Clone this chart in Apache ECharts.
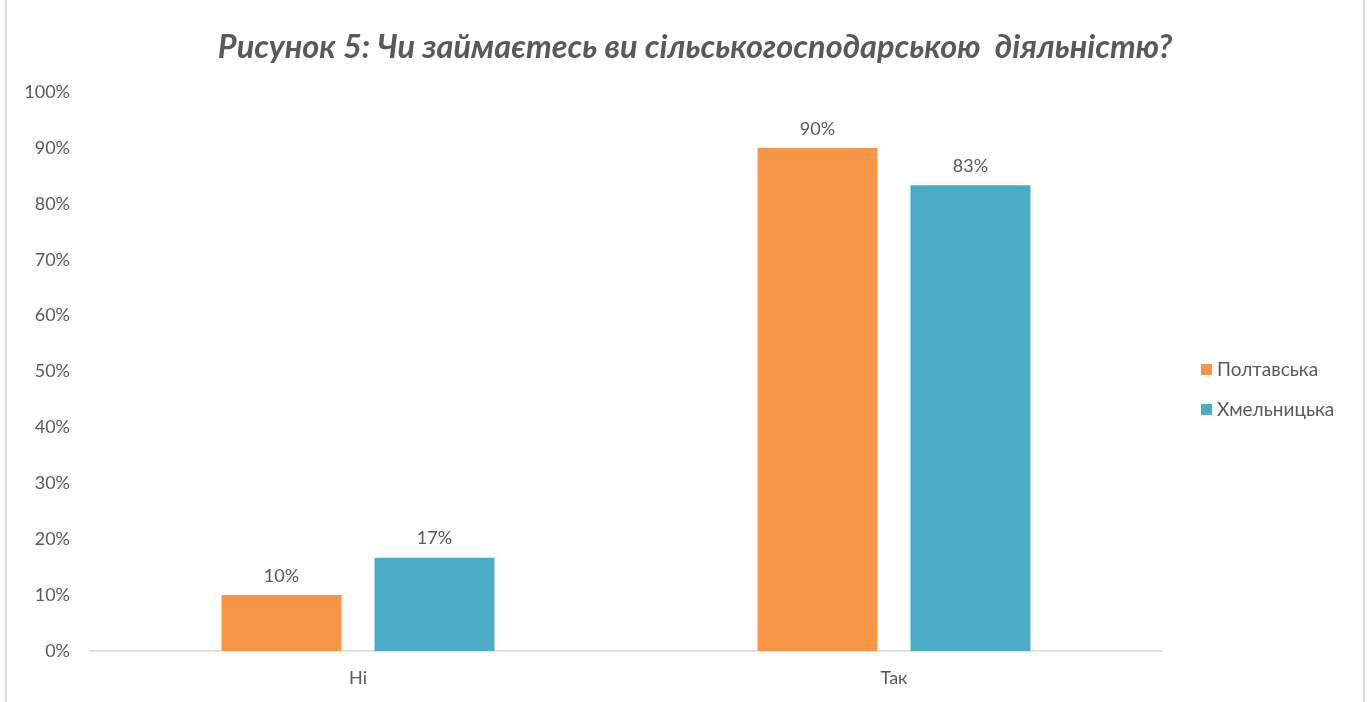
<!DOCTYPE html>
<html>
<head>
<meta charset="utf-8">
<script src="https://cdn.jsdelivr.net/npm/echarts@6/dist/echarts.min.js"></script>
<style>
  html, body { margin: 0; padding: 0; background: #fff; }
  #chart { width: 1370px; height: 702px; }
</style>
</head>
<body>
<div id="chart"></div>
<script>
var categories = ['Ні', 'Так'];
var poltavska = [10, 90];
var khmelnytska = [16.7, 83.3];
var yTicks = [0, 10, 20, 30, 40, 50, 60, 70, 80, 90, 100];

var chart = echarts.init(document.getElementById('chart'));
var font = 'Lato, "Open Sans", sans-serif';

var labelOpt = {
  show: true,
  position: 'top',
  distance: 10,
  color: '#595959',
  fontSize: 18,
  fontFamily: font,
  formatter: function (p) { return Math.round(p.value) + '%'; }
};

var option = {
  backgroundColor: '#fff',
  animation: false,
  graphic: [{
    type: 'rect',
    shape: { x: 6, y: -2, width: 1358, height: 720 },
    style: { fill: 'none', stroke: '#d9d9d9', lineWidth: 2 },
    silent: true
  }],
  title: {
    text: 'Рисунок 5: Чи займаєтесь ви сільськогосподарською  діяльністю?',
    left: 690,
    top: 26,
    textAlign: 'center',
    textStyle: {
      color: '#595959',
      fontSize: 32.5,
      fontStyle: 'italic',
      fontWeight: 'bold',
      fontFamily: font
    }
  },
  legend: {
    orient: 'vertical',
    left: 1196,
    top: 355,
    itemWidth: 11,
    itemHeight: 11,
    itemGap: 21,
    icon: 'rect',
    textStyle: { color: '#595959', fontSize: 19, fontFamily: font },
    data: ['Полтавська', 'Хмельницька']
  },
  grid: {
    left: 90,
    right: 208,
    top: 92,
    bottom: 51,
    containLabel: false
  },
  xAxis: {
    type: 'category',
    data: categories,
    axisLine: { lineStyle: { color: '#d9d9d9', width: 1.5 } },
    axisTick: { show: false },
    axisLabel: { color: '#595959', fontSize: 18, fontFamily: font, margin: 18 }
  },
  yAxis: {
    type: 'value',
    min: yTicks[0],
    max: yTicks[yTicks.length - 1],
    interval: 10,
    axisLine: { show: false },
    axisTick: { show: false },
    splitLine: { show: false },
    axisLabel: {
      color: '#595959',
      fontSize: 18,
      fontFamily: font,
      margin: 20,
      formatter: '{value}%'
    }
  },
  series: [
    {
      name: 'Полтавська',
      type: 'bar',
      data: poltavska,
      barWidth: 120,
      barGap: '27.5%',
      itemStyle: { color: '#f79646' },
      label: labelOpt
    },
    {
      name: 'Хмельницька',
      type: 'bar',
      data: khmelnytska,
      barWidth: 120,
      itemStyle: { color: '#4bacc6' },
      label: labelOpt
    }
  ]
};

option && chart.setOption(option);
</script>
</body>
</html>
